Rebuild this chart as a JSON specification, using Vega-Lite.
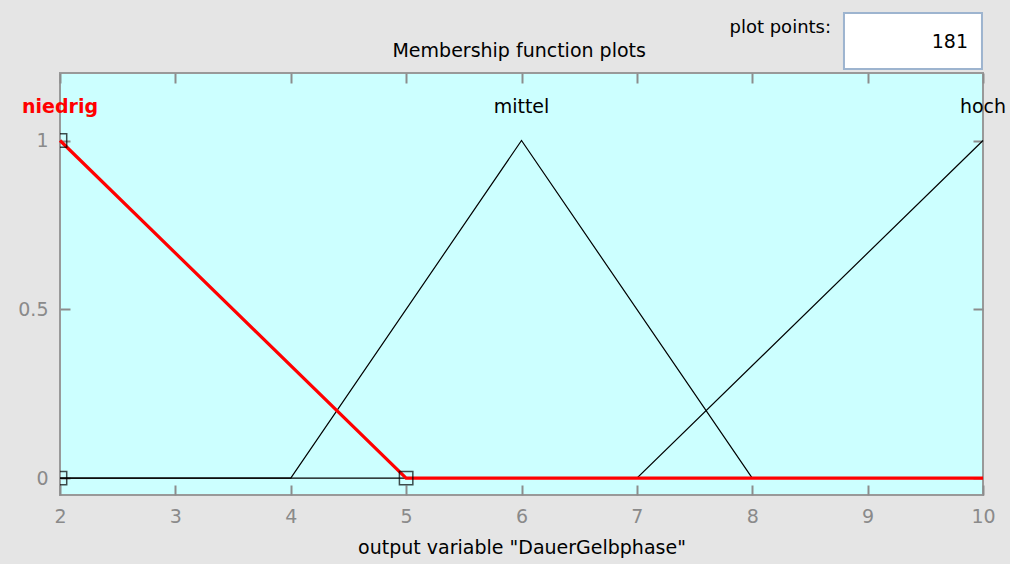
{
  "$schema": "https://vega.github.io/schema/vega-lite/v6.json",
  "width": 923,
  "height": 422,
  "autosize": {"type": "none"},
  "padding": {"left": 60, "top": 73, "right": 27, "bottom": 69},
  "background": "#E5E5E5",
  "config": {
    "view": {"fill": "#CCFFFF", "stroke": "#999999", "strokeWidth": 2},
    "axis": {
      "domain": false,
      "grid": false,
      "labelFont": "DejaVu Sans",
      "labelFontSize": 19,
      "labelColor": "#8A8A8A",
      "labelFlush": false,
      "tickColor": "#8C8C8C",
      "tickWidth": 2,
      "tickSize": -10,
      "labelPadding": 22,
      "titleFont": "DejaVu Sans",
      "titleFontSize": 19,
      "titleFontWeight": "normal",
      "titleColor": "#000000"
    }
  },
  "datasets": {
    "mfs": [
      {"mf": "niedrig", "x": 2, "mu": 1},
      {"mf": "niedrig", "x": 5, "mu": 0},
      {"mf": "niedrig", "x": 10, "mu": 0},
      {"mf": "mittel", "x": 2, "mu": 0},
      {"mf": "mittel", "x": 4, "mu": 0},
      {"mf": "mittel", "x": 6, "mu": 1},
      {"mf": "mittel", "x": 8, "mu": 0},
      {"mf": "mittel", "x": 10, "mu": 0},
      {"mf": "hoch", "x": 2, "mu": 0},
      {"mf": "hoch", "x": 7, "mu": 0},
      {"mf": "hoch", "x": 10, "mu": 1}
    ],
    "handles": [
      {"x": 2, "mu": 1},
      {"x": 2, "mu": 0},
      {"x": 5, "mu": 0}
    ],
    "names": [
      {"mf": "niedrig", "peak": 2},
      {"mf": "mittel", "peak": 6},
      {"mf": "hoch", "peak": 10}
    ],
    "header": [
      {"heading": "Membership function plots", "label": "plot points:", "count": "181"}
    ]
  },
  "layer": [
    {
      "data": {"name": "mfs"},
      "transform": [{"filter": "datum.mf !== 'niedrig'"}],
      "mark": {"type": "line", "color": "#000000", "strokeWidth": 1.2},
      "encoding": {
        "x": {
          "field": "x", "type": "quantitative",
          "scale": {"domain": [2, 10], "nice": false, "zero": false},
          "axis": {"orient": "top", "labels": false, "title": null, "values": [2, 3, 4, 5, 6, 7, 8, 9, 10]}
        },
        "y": {
          "field": "mu", "type": "quantitative",
          "scale": {"domain": [-0.05, 1.2], "nice": false, "zero": false},
          "axis": {"orient": "right", "labels": false, "title": null, "values": [0, 0.5, 1]}
        },
        "detail": {"field": "mf"}
      }
    },
    {
      "data": {"name": "mfs"},
      "transform": [{"filter": "datum.mf === 'niedrig'"}],
      "mark": {"type": "line", "color": "#FF0000", "strokeWidth": 3.2},
      "encoding": {
        "x": {
          "field": "x", "type": "quantitative",
          "axis": {
            "orient": "bottom",
            "values": [2, 3, 4, 5, 6, 7, 8, 9, 10],
            "title": "output variable \"DauerGelbphase\"",
            "titleBaseline": "alphabetic",
            "titleY": 58
          }
        },
        "y": {
          "field": "mu", "type": "quantitative",
          "axis": {"orient": "left", "values": [0, 0.5, 1], "format": "~g", "title": null, "labelBaseline": "middle"}
        }
      }
    },
    {
      "data": {"name": "handles"},
      "mark": {"type": "point", "shape": "square", "size": 180, "filled": false, "stroke": "#000000", "strokeWidth": 1.5, "clip": true},
      "encoding": {
        "x": {"field": "x", "type": "quantitative", "axis": null},
        "y": {"field": "mu", "type": "quantitative", "axis": null}
      }
    },
    {
      "data": {"name": "names"},
      "transform": [{"filter": "datum.mf !== 'niedrig'"}],
      "mark": {"type": "text", "font": "DejaVu Sans", "fontSize": 19, "color": "#000000", "align": "center", "baseline": "middle"},
      "encoding": {
        "x": {"field": "peak", "type": "quantitative", "axis": null},
        "y": {"datum": 1.1, "type": "quantitative", "axis": null},
        "text": {"field": "mf"}
      }
    },
    {
      "data": {"name": "names"},
      "transform": [{"filter": "datum.mf === 'niedrig'"}],
      "mark": {"type": "text", "font": "DejaVu Sans", "fontSize": 19, "fontWeight": "bold", "color": "#FF0000", "align": "center", "baseline": "middle"},
      "encoding": {
        "x": {"field": "peak", "type": "quantitative", "axis": null},
        "y": {"datum": 1.1, "type": "quantitative", "axis": null},
        "text": {"field": "mf"}
      }
    },
    {
      "data": {"name": "header"},
      "mark": {"type": "text", "font": "DejaVu Sans", "fontSize": 19, "color": "#000000", "align": "center", "baseline": "alphabetic"},
      "encoding": {
        "x": {"datum": 5.98, "type": "quantitative", "axis": null},
        "y": {"datum": 1.247, "type": "quantitative", "axis": null},
        "text": {"field": "heading"}
      }
    },
    {
      "data": {"name": "header"},
      "mark": {"type": "rect", "fill": "#FFFFFF", "stroke": "#9DB4CF", "strokeWidth": 2},
      "encoding": {
        "x": {"datum": 8.795, "type": "quantitative", "axis": null},
        "x2": {"datum": 9.991},
        "y": {"datum": 1.378, "type": "quantitative", "axis": null},
        "y2": {"datum": 1.212}
      }
    },
    {
      "data": {"name": "header"},
      "mark": {"type": "text", "font": "DejaVu Sans", "fontSize": 18, "color": "#000000", "align": "right", "baseline": "alphabetic"},
      "encoding": {
        "x": {"datum": 8.683, "type": "quantitative", "axis": null},
        "y": {"datum": 1.318, "type": "quantitative", "axis": null},
        "text": {"field": "label"}
      }
    },
    {
      "data": {"name": "header"},
      "mark": {"type": "text", "font": "DejaVu Sans", "fontSize": 19, "color": "#000000", "align": "right", "baseline": "alphabetic"},
      "encoding": {
        "x": {"datum": 9.87, "type": "quantitative", "axis": null},
        "y": {"datum": 1.274, "type": "quantitative", "axis": null},
        "text": {"field": "count"}
      }
    }
  ],
  "resolve": {"axis": {"x": "independent", "y": "independent"}}
}
